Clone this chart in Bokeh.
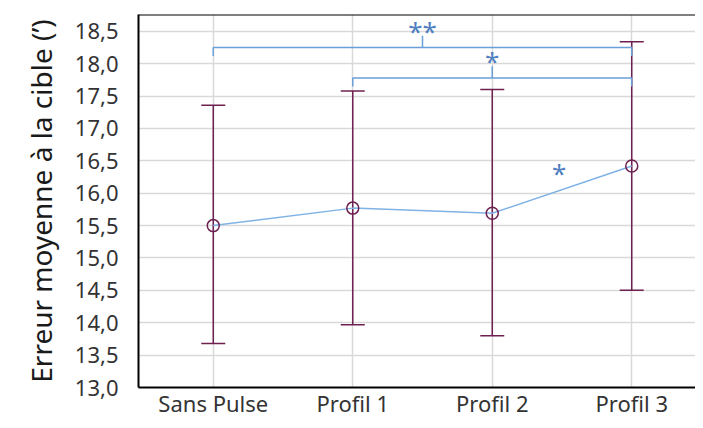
from bokeh.plotting import figure
from bokeh.models import FixedTicker, Range1d, Whisker, TeeHead, ColumnDataSource, Span
from bokeh.embed import file_html
from bokeh.resources import INLINE
from bokeh.core.properties import value

# ---- data ----
categories = ["Sans Pulse", "Profil 1", "Profil 2", "Profil 3"]
means = [15.50, 15.77, 15.69, 16.42]
upper = [17.36, 17.58, 17.60, 18.34]
lower = [13.68, 13.97, 13.80, 14.50]
y_ticks = [13.0, 13.5, 14.0, 14.5, 15.0, 15.5, 16.0, 16.5, 17.0, 17.5, 18.0, 18.5]
y_tick_labels = ["13,0", "13,5", "14,0", "14,5", "15,0", "15,5", "16,0", "16,5",
                 "17,0", "17,5", "18,0", "18,5"]
bracket_start = [0, 1]
bracket_end = [3, 3]
bracket_level = [18.25, 17.78]
bracket_label = ["**", "*"]
pair_star_x = [2.48]
pair_star_y = [16.31]
pair_star_label = ["*"]

FONT = "Noto Sans"
PURPLE = "#6e2150"
BLUE_LINE = "#7fb2e5"
BLUE_BR = "#6a9fd8"
BLUE_TXT = "#4f7fc0"

x = list(range(len(categories)))
y_bottom = 13.0
y_top = 18.76

p = figure(width=695, height=420, output_backend="svg", toolbar_location=None,
           x_range=Range1d(-0.536, 3.457), y_range=Range1d(y_bottom, y_top),
           min_border_left=138, min_border_right=0, min_border_top=14, min_border_bottom=0)
p.outline_line_color = None
p.background_fill_color = "white"
p.border_fill_color = "white"

# grids
p.xgrid.ticker = FixedTicker(ticks=x)
p.ygrid.ticker = FixedTicker(ticks=y_ticks)
for g in (p.xgrid, p.ygrid):
    g.grid_line_color = "#d9d9d9"
    g.grid_line_width = 1.5

# axes
p.xaxis.ticker = FixedTicker(ticks=x)
p.xaxis.major_label_overrides = {i: c for i, c in zip(x, categories)}
p.yaxis.ticker = FixedTicker(ticks=y_ticks)
p.yaxis.major_label_overrides = {t: l for t, l in zip(y_ticks, y_tick_labels)}
for ax in (p.xaxis, p.yaxis):
    ax.axis_line_color = "black"
    ax.axis_line_width = 2
    ax.major_tick_line_color = None
    ax.minor_tick_line_color = None
    ax.major_label_text_font = FONT
    ax.major_label_text_font_size = "22px"
    ax.major_label_text_color = "#333333"
p.xaxis.major_label_standoff = -6
p.yaxis.major_label_standoff = 14
p.yaxis.axis_label = "Erreur moyenne à la cible (’)"
p.yaxis.axis_label_text_font = FONT
p.yaxis.axis_label_text_font_style = "normal"
p.yaxis.axis_label_text_font_size = "28px"
p.yaxis.axis_label_text_color = "#1a1a1a"
p.yaxis.axis_label_standoff = 12

p.add_layout(Span(location=y_top, dimension="width", line_color="black", line_width=2))

# mean line
p.line(x, means, line_color=BLUE_LINE, line_width=1.5)

# error bars
src = ColumnDataSource(dict(x=x, upper=upper, lower=lower))
p.add_layout(Whisker(base="x", upper="upper", lower="lower", source=src,
                     line_color=PURPLE, line_width=1.5,
                     upper_head=TeeHead(size=24, line_color=PURPLE, line_width=1.5),
                     lower_head=TeeHead(size=24, line_color=PURPLE, line_width=1.5)))

p.scatter(x, means, marker="circle", size=12, fill_color=None,
          line_color=PURPLE, line_width=1.5)

# brackets
xs, ys, tx, ty = [], [], [], []
for s, e, lv in zip(bracket_start, bracket_end, bracket_level):
    m = (s + e) / 2
    xs.append([s, s, e, e])
    ys.append([lv - 0.13, lv, lv, lv - 0.13])
    xs.append([m, m])
    ys.append([lv, lv + 0.18])
    tx.append(m)
    ty.append(lv + 0.26)
p.multi_line(xs, ys, line_color=BLUE_BR, line_width=1.5)
p.text(tx, ty, text=bracket_label, text_color=BLUE_TXT, text_font=value(FONT),
       text_font_size="26px", text_align="center", text_baseline="middle")
p.text(pair_star_x, pair_star_y, text=pair_star_label, text_color=BLUE_TXT,
       text_font=value(FONT), text_font_size="26px", text_align="center",
       text_baseline="middle")

open("out.html", "w").write(file_html(p, INLINE))
